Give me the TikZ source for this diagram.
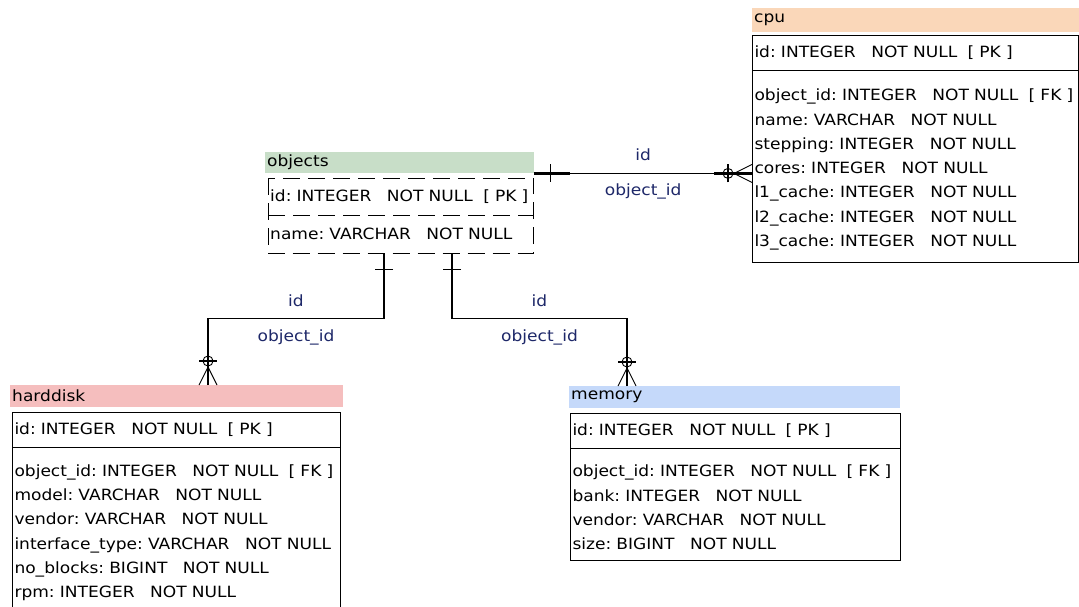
\documentclass[tikz,border=0pt]{standalone}
\usepackage{fontspec}
\newfontfamily\erfont[FakeStretch=1.1]{DejaVu Sans}
\newcommand\erfnt{\erfont\fontsize{15.5}{24.3}\selectfont\frenchspacing}
\definecolor{cpufill}{RGB}{250,215,185}
\definecolor{objfill}{RGB}{200,222,200}
\definecolor{hddfill}{RGB}{245,190,190}
\definecolor{memfill}{RGB}{197,217,250}
\definecolor{lblblue}{RGB}{30,40,105}

\begin{document}
\begin{tikzpicture}[
  x=1pt, y=-1pt,
  head/.style={
    anchor=north west,
    inner xsep=2pt,
    inner ysep=0pt,
    minimum height=22pt,
    align=left,
    font=\erfnt
  },
  sect/.style={
    anchor=north west,
    inner xsep=2pt,
    inner ysep=0pt,
    align=left,
    font=\erfnt
  },
  box/.style={sect, draw, line width=1pt},
  fields/.style={box, execute at begin node={\rule{0pt}{18pt}}},
  dashes/.style={draw, line width=1pt, dash pattern=on 17pt off 8pt},
  rel/.style={draw, line width=1.2pt},
  lbl/.style={font=\erfnt, text=lblblue, inner sep=0pt},
  onemark/.pic={
    \draw[line width=2.5pt] (0,0) -- (36,0);
    \draw[line width=1.2pt] (16,-9) -- (16,9);
  },
  manymark/.pic={
    \draw[line width=2.5pt] (0,0) -- (38,0);
    \draw[line width=0.9pt] (0,-9) -- (18,0) -- (0,9);
    \draw[line width=1.2pt] (24,-9) -- (24,9);
    \draw[line width=0.9pt] (24,0) circle (5);
  }
]
\useasboundingbox (0,0) rectangle (1079,606);
\fill[white] (0,0) rectangle (1079,606);
\clip (0,0) rectangle (1079,606);

% cpu
\node[head, fill=cpufill, minimum height=24pt, text width=323pt] (cpu) at (752,8) {cpu};
\node[box, text width=322pt, minimum height=35pt] (cpu-pk) at (752,35) {id: INTEGER~~~NOT NULL~~[ PK ]};
\node[fields, text width=322pt, minimum height=192pt] (cpu-fk) at (752,70) {object\_id: INTEGER~~~NOT NULL~~[ FK ]\\
name: VARCHAR~~~NOT NULL\\
stepping: INTEGER~~~NOT NULL\\
cores: INTEGER~~~NOT NULL\\
l1\_cache: INTEGER~~~NOT NULL\\
l2\_cache: INTEGER~~~NOT NULL\\
l3\_cache: INTEGER~~~NOT NULL};

% objects
\node[head, fill=objfill, minimum height=21pt, text width=265pt] (objects) at (265,152) {objects};
\node[sect, text width=261pt, minimum height=37pt] (obj-pk) at (268,178) {id: INTEGER~~~NOT NULL~~[ PK ]};
\node[sect, text width=261pt, minimum height=38pt] (obj-name) at (268,215) {name: VARCHAR~~~NOT NULL};
\draw[dashes] (obj-pk.north west) rectangle (obj-name.south east);
\draw[dashes] (obj-pk.south west) -- (obj-pk.south east);

% harddisk
\node[head, fill=hddfill, text width=329pt] (harddisk) at (10,385) {harddisk};
\node[box, text width=324pt, minimum height=35pt] (hdd-pk) at (12,412) {id: INTEGER~~~NOT NULL~~[ PK ]};
\node[fields, text width=324pt, minimum height=164pt] (hdd-fk) at (12,447) {object\_id: INTEGER~~~NOT NULL~~[ FK ]\\
model: VARCHAR~~~NOT NULL\\
vendor: VARCHAR~~~NOT NULL\\
interface\_type: VARCHAR~~~NOT NULL\\
no\_blocks: BIGINT~~~NOT NULL\\
rpm: INTEGER~~~NOT NULL};

% memory
\node[head, fill=memfill, text width=327pt] (memory) at (569,386) {memory};
\node[box, text width=326pt, minimum height=35pt] (mem-pk) at (570,413) {id: INTEGER~~~NOT NULL~~[ PK ]};
\node[fields, text width=326pt, minimum height=112pt] (mem-fk) at (570,448) {object\_id: INTEGER~~~NOT NULL~~[ FK ]\\
bank: INTEGER~~~NOT NULL\\
vendor: VARCHAR~~~NOT NULL\\
size: BIGINT~~~NOT NULL};

% connectors
\coordinate (obj-a) at ([xshift=116pt]obj-name.south west);
\coordinate (obj-b) at ([xshift=184pt]obj-name.south west);
\coordinate (hdd-a) at ([xshift=198pt]harddisk.north west);
\coordinate (mem-a) at ([xshift=58pt]memory.north west);

\draw[rel] (objects.south east) -- node[lbl, yshift=19pt] {id} node[lbl, yshift=-18pt] {object\_id} (objects.south east -| cpu-fk.west);
\draw[rel] (obj-a) -- ++(0,65) coordinate (hdd-k) -- node[lbl, yshift=18pt] {id} node[lbl, yshift=-19pt] {object\_id} (hdd-k -| hdd-a) -- (hdd-a);
\draw[rel] (obj-b) -- ++(0,65) coordinate (mem-k) -- node[lbl, yshift=18pt] {id} node[lbl, yshift=-19pt] {object\_id} (mem-k -| mem-a) -- (mem-a);

\pic at (objects.south east) {onemark};
\pic[rotate=180] at (objects.south east -| cpu-fk.west) {manymark};
\pic[rotate=-90] at (obj-a) {onemark};
\pic[rotate=-90] at (obj-b) {onemark};
\pic[rotate=90] at (hdd-a) {manymark};
\pic[rotate=90] at (mem-a) {manymark};
\end{tikzpicture}
\end{document}
